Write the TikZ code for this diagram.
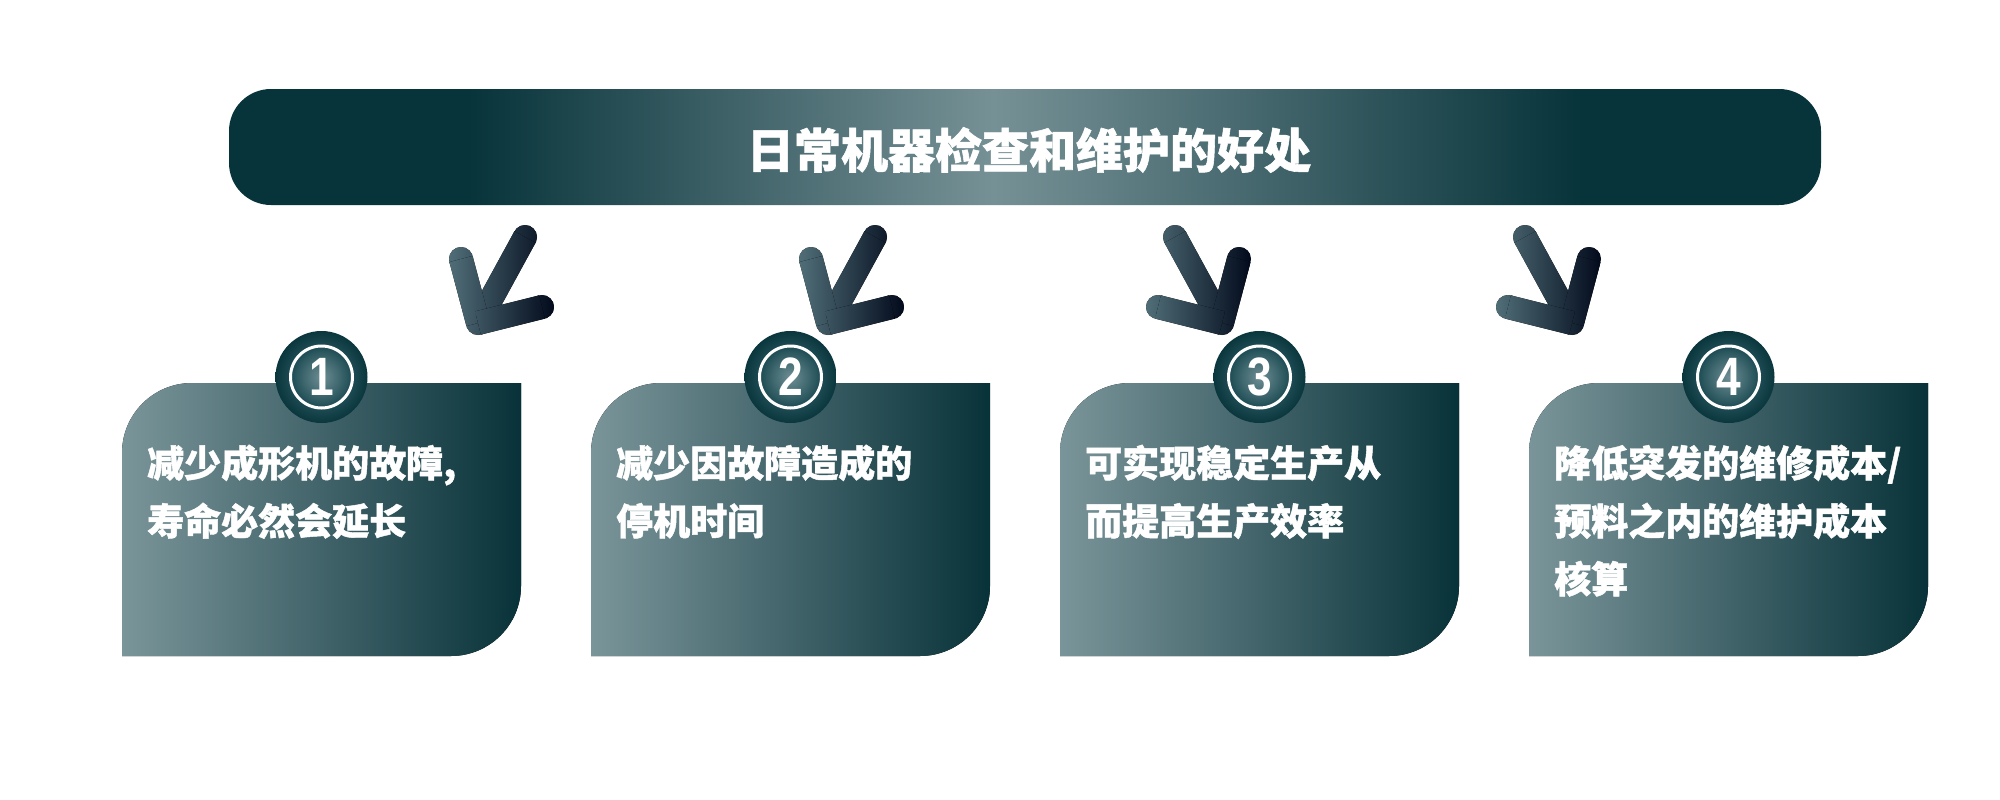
\documentclass[tikz,border=0pt]{standalone}
\usepackage{fontspec}
\newfontfamily\cjk{Noto Sans CJK SC}[BoldFeatures={FakeBold=1.2}]
\newfontfamily\numfont{Liberation Sans}[FakeStretch=0.82]
\usetikzlibrary{calc}
\definecolor{hdark}{RGB}{7,51,58}
\definecolor{hlight}{RGB}{118,145,150}
\definecolor{boxL}{RGB}{122,149,154}
\definecolor{boxR}{RGB}{8,50,57}
\definecolor{arrL}{RGB}{80,110,120}
\definecolor{arrR}{RGB}{2,10,28}
\definecolor{cL}{RGB}{110,142,148}
\definecolor{cM}{RGB}{32,78,86}
\definecolor{cD}{RGB}{10,54,61}
\pgfdeclarehorizontalshading{hdrshade}{100bp}{color(0bp)=(hdark); color(25bp)=(hdark); color(32.5bp)=(hdark); color(49bp)=(hlight); color(67.5bp)=(hdark); color(75bp)=(hdark); color(100bp)=(hdark)}
\pgfdeclareradialshading{circshade}{\pgfpoint{0bp}{0bp}}{color(0bp)=(cL); color(16bp)=(cM); color(25bp)=(cD); color(50bp)=(cD)}
\tikzset{
  titletext/.style={text=white, inner sep=0pt, font=\cjk\bfseries\fontsize{47}{50}\selectfont},
  bodytext/.style={text=white, inner sep=0pt, anchor=base west, font=\cjk\bfseries\fontsize{37}{44}\selectfont},
  numcirc/.style={circle, shade, shading=circshade, minimum size=92pt, inner sep=0pt, text=white, font=\numfont\bfseries\fontsize{54}{54}\selectfont},
  ring/.style={draw=white, line width=3pt},
  arrowfill/.style={left color=arrL, right color=arrR}
}
\newcommand\mybox[2]{%
  \fill[left color=boxL,right color=boxR] (#2,656) -- (#2,453) .. controls (#2,414.3) and ({#2+31.3},383) .. ({#2+70},383) -- ({#2+399},383) -- ({#2+399},586) .. controls ({#2+399},624.7) and ({#2+367.7},656) .. ({#2+329},656) -- cycle;
  \node[numcirc] (c#1) at ({#2+199.5},377) {#1};
  \draw[ring] (c#1.center) circle[radius=31];
}
\newcommand\myarrow[3]{%
  \coordinate (#1S) at ({#2*525+#3},237);
  \coordinate (#1L) at ({#2*461+#3},259);
  \coordinate (#1C) at ({#2*478+#3},323);
  \coordinate (#1R) at ({#2*542+#3},307);
  \pgfmathsetmacro\axa{min(#2*461,#2*542)+#3-12}
  \pgfmathsetmacro\axb{max(#2*461,#2*542)+#3+12}
  \foreach \p in {S,L,C,R}{\begin{scope}\clip (#1\p) circle[radius=12]; \fill[arrowfill] (\axa,220) rectangle (\axb,340);\end{scope}}
  \foreach \p/\q in {S/C,L/C,C/R}{\begin{scope}\clip ($(#1\p)!12pt!90:(#1\q)$) -- ($(#1\p)!12pt!-90:(#1\q)$) -- ($(#1\q)!12pt!90:(#1\p)$) -- ($(#1\q)!12pt!-90:(#1\p)$) -- cycle; \fill[arrowfill] (\axa,220) rectangle (\axb,340);\end{scope}}
}
\begin{document}
\begin{tikzpicture}[x=1pt,y=-1pt]
\useasboundingbox (0,0) rectangle (2000,800);
\fill[white] (0,0) rectangle (2000,800);
\shade[shading=hdrshade, rounded corners=42pt] (229,89) rectangle (1821,205);
\node[titletext, anchor=base] (title) at (1029,168) {日常机器检查和维护的好处};
\mybox{1}{122}
\mybox{2}{591}
\mybox{3}{1060}
\mybox{4}{1529}
\node[bodytext] (t1a) at (147,477) {减少成形机的故障,};
\node[bodytext] (t1b) at (147,535) {寿命必然会延长};
\node[bodytext] (t2a) at (616,477) {减少因故障造成的};
\node[bodytext] (t2b) at (616,535) {停机时间};
\node[bodytext] (t3a) at (1085,477) {可实现稳定生产从};
\node[bodytext] (t3b) at (1085,535) {而提高生产效率};
\node[bodytext] (t4a) at (1554,477) {降低突发的维修成本/};
\node[bodytext] (t4b) at (1554,535) {预料之内的维护成本};
\node[bodytext] (t4c) at (1554,593) {核算};
\myarrow{a1}{1}{0}
\myarrow{a2}{1}{350}
\myarrow{a3}{-1}{1700}
\myarrow{a4}{-1}{2050}
\end{tikzpicture}
\end{document}
